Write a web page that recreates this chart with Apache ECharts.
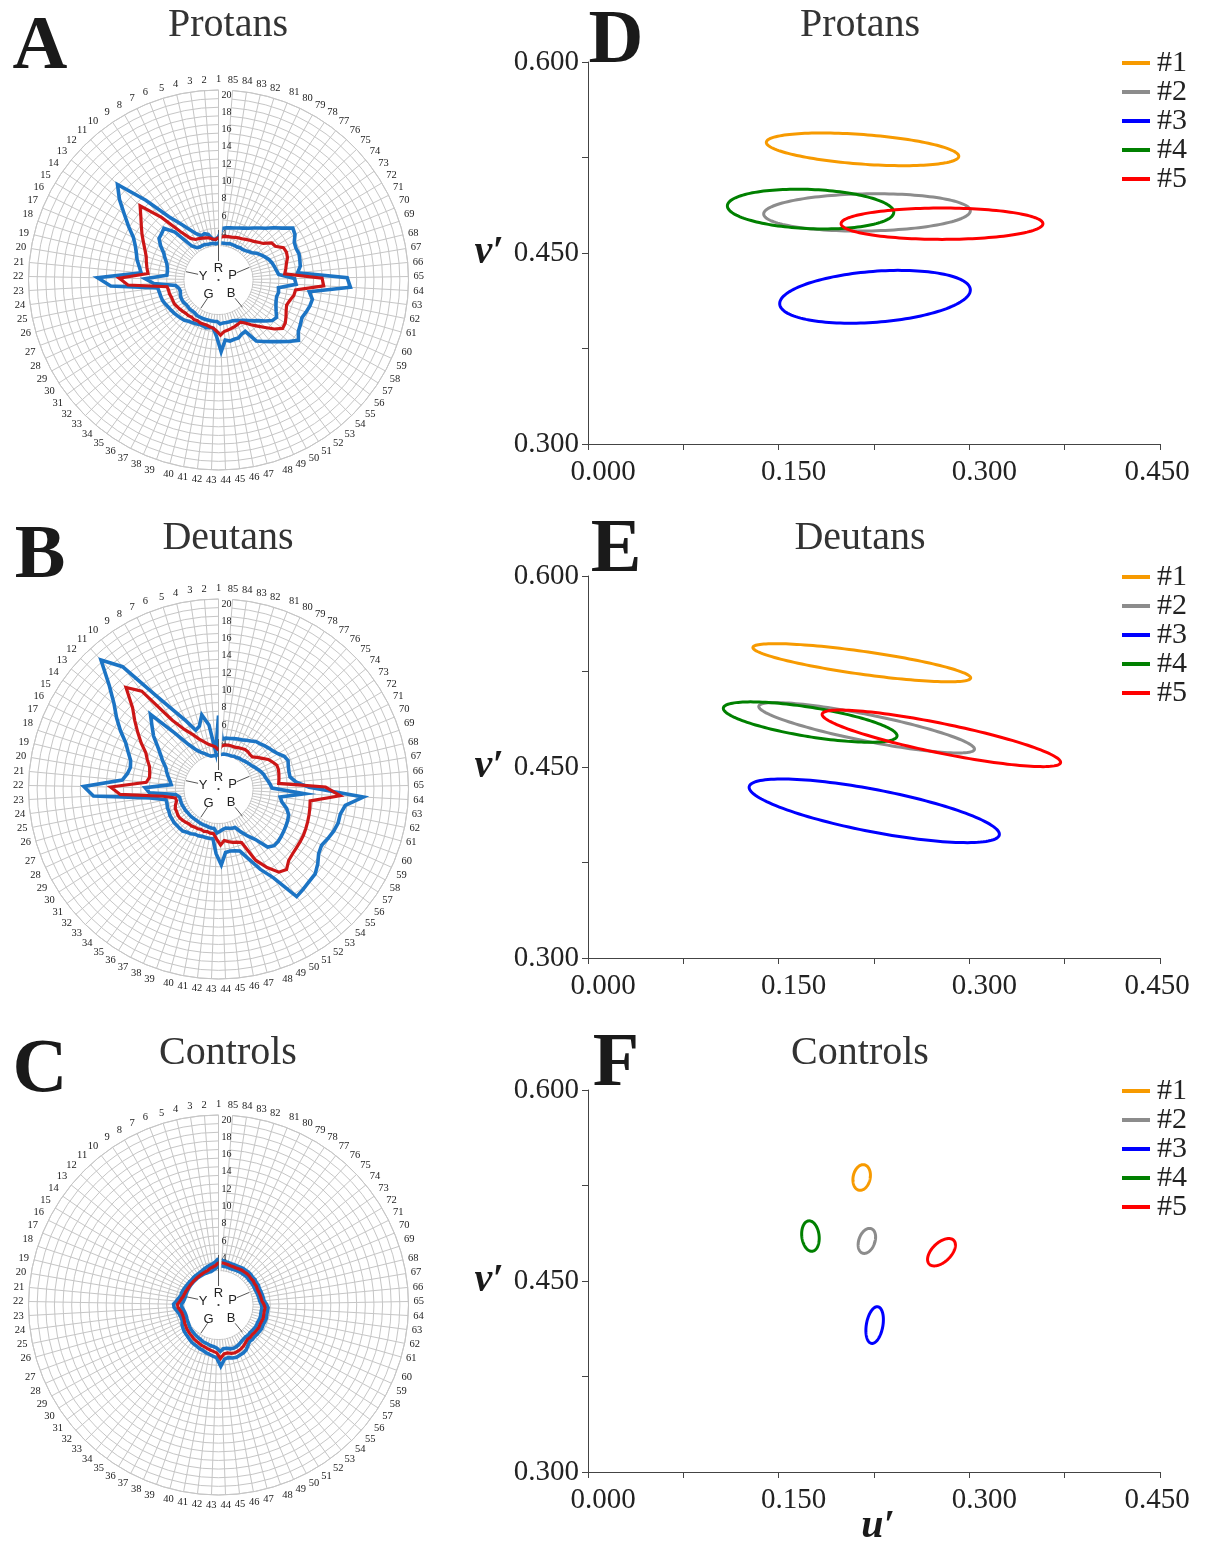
<!DOCTYPE html>
<html><head><meta charset="utf-8">
<script src="https://cdn.jsdelivr.net/npm/echarts@6/dist/echarts.min.js"></script>
<style>html,body{margin:0;padding:0;background:#fff}#c{width:1209px;height:1544px}</style>
</head><body><div id="c"></div>
<script>
// ---------- DATA ----------
const spokeLabels = ['1','2','3','4','5','6','7','8','9','10','11','12','13','14','15','16','17','18','19','20','21','22','23','24','25','26','27','28','29','30','31','32','33','34','35','36','37','38','39','40','41','42','43','44','45','46','47','48','49','50','51','52','53','54','55','56','57','58','59','60','61','62','63','64','65','66','67','68','69','70','71','72','73','74','75','76','77','78','79','80','81','82','83','84','85'];
const radiusTickLabels = [4,6,8,10,12,14,16,18,20];

const protanUpper = [3.0,2.7,2.8,3.4,3.6,3.5,3.9,4.7,5.8,7.3, 10.5,14.1,12.8,11.3,10.1,9.0,8.4,8.0,7.7,7.3, 7.0,12.0,10.5,5.1,5.0,4.95,4.9,4.75,4.6,4.5, 4.4,4.3,4.2,4.1,3.9,3.8,3.7,3.6,3.6,3.7, 3.6,3.6,4.5,6.3,5.0,5.2,5.1,5.1,4.8,4.7, 6.3,6.8,7.35,8.0,8.8,9.6,9.0,8.8,8.6,8.8, 9.0,9.1,8.6,13.3,12.9,7.2,7.6,7.7,7.8,7.7, 7.8,8.3,8.5,7.5,6.8,6.1,5.65,5.25,4.9,4.65, 4.45,4.3,4.2,4.1,4.0];
const protanMean = [2.9,2.7,2.8,3.0,3.1,3.2,3.3,3.4,3.8,5.1, 7.8,10.5,9.6,8.9,8.3,7.7,7.2,6.8,6.6,6.4, 6.2,9.5,8.5,4.0,3.9,3.9,3.8,3.8,3.8,3.7, 3.6,3.5,3.4,3.4,3.3,3.4,3.3,3.4,3.4,3.4, 3.5,3.6,3.9,4.4,4.0,3.9,3.8,3.7,3.6,3.5, 3.85,4.4,5.0,5.7,6.6,7.3,7.2,6.9,6.6,6.4, 6.6,6.9,7.0,10.2,10.0,5.7,5.9,6.1,6.4,6.5, 6.4,5.65,5.5,4.7,4.35,4.06,3.85,3.66,3.5,3.4, 3.3,3.2,3.15,3.1,3.0];
const protanLower = [2.3,2.2,2.3,2.3,2.3,2.4,2.4,2.4,2.5,3.0, 5.5,6.7,6.5,6.4,5.8,5.1,4.7,4.3,4.1,4.0, 4.0,6.5,5.5,3.0,2.7,2.6,2.7,2.8,2.8,2.8, 2.7,2.7,2.75,2.7,2.7,2.8,2.8,2.8,2.8,2.8, 2.8,2.8,2.8,3.1,3.0,3.0,3.0,3.0,3.1,3.3, 3.5,3.8,4.2,4.6,5.2,5.8,6.0,5.6,5.3,5.1, 5.0,5.1,5.0,7.0,6.8,5.0,4.8,4.65,4.5,4.3, 4.0,3.7,3.4,3.0,2.8,2.6,2.5,2.5,2.4,2.4, 2.4,2.4,2.3,2.3,2.3];

const deutanUpper = [6.5,2.3,5.5,6.8,5.6,5.3,6.7,8.4,11.1,16.0, 18.2,15.4,13.6,12.4,11.2,10.0,9.3,8.7,8.5,8.7, 9.2,13.6,12.5,6.0,4.2,4.2,4.3,4.3,4.4,4.4, 4.45,4.4,4.4,4.4,4.2,4.1,3.9,3.9,3.8,3.8, 3.8,3.8,5.5,6.8,5.4,5.3,5.4,5.6,6.8,8.5, 10.1,13.4,13.2,13.0,12.9,12.4,11.8,11.6,11.9,12.2, 12.4,12.4,12.8,14.8,8.5,7.0,6.4,6.4,6.5,6.7, 6.5,6.0,5.7,5.5,5.3,5.1,5.0,4.7,4.5,4.3, 4.2,4.1,4.0,3.95,3.8];
const deutanMean = [2.5,2.9,3.1,3.3,3.7,4.2,5.0,5.9,7.6,12.4, 13.9,11.7,10.5,9.4,8.4,7.4,6.9,6.4,6.2,6.1, 6.4,10.5,9.4,4.5,3.1,3.05,3.3,3.5,3.5,3.6, 3.6,3.5,3.4,3.3,3.3,3.2,3.2,3.1,3.2,3.1, 3.2,3.2,3.8,4.5,4.0,4.2,4.4,4.5,4.75,7.3, 8.7,9.9,10.2,9.6,9.4,9.3,9.25,9.2,9.1,9.0, 8.9,8.8,8.7,12.1,10.4,5.0,5.1,5.2,5.3,5.3, 5.0,4.7,4.2,3.8,3.4,3.4,3.5,3.5,3.4,3.3, 3.2,3.2,3.2,3.15,3.0];
const deutanLower = [2.0,1.9,1.9,1.9,2.1,2.4,2.7,3.2,4.2,6.25, 9.7,8.6,7.7,6.6,5.8,5.2,4.6,4.3,4.0,3.7, 3.5,6.5,6.0,3.0,2.6,2.6,2.6,2.6,2.55,2.55, 2.5,2.5,2.5,2.45,2.45,2.45,2.5,2.5,2.5,2.55, 2.6,2.6,3.1,2.9,2.7,2.6,2.7,2.8,2.85,3.6, 4.4,5.2,6.8,7.2,7.2,7.1,7.0,6.9,6.8,6.65, 6.2,5.5,5.2,8.0,4.2,4.0,3.8,3.6,3.5,3.3, 3.1,2.9,2.7,2.6,2.5,2.4,2.3,2.3,2.2,2.2, 2.1,2.1,2.1,2.1,2.0];

const controlUpper = [3.4,3.0,2.8,2.7,2.6,2.5,2.4,2.35,2.3,2.3, 2.3,2.25,2.3,2.3,2.35,2.4,2.45,2.5,2.5,2.7, 2.9,3.2,3.15,2.9,2.7,2.6,2.55,2.6,2.8,2.9, 3.0,3.05,3.1,3.2,3.3,3.35,3.4,3.5,3.55,3.7, 3.8,3.95,4.1,5.1,4.3,4.2,4.35,4.4,4.3,4.25, 4.1,3.8,3.55,3.6,3.55,3.6,3.65,3.7,3.65,3.7, 3.75,3.7,3.7,3.75,3.55,3.3,3.25,3.2,3.15,3.1, 3.15,3.1,3.15,3.1,3.15,3.15,3.1,3.1,3.05,3.0, 3.0,3.0,3.05,3.1,3.2];
const controlMean = [2.9,2.6,2.45,2.35,2.2,2.15,2.1,2.05,2.0,2.0, 2.0,2.0,2.0,2.0,2.0,2.05,2.1,2.15,2.2,2.35, 2.5,2.75,2.7,2.5,2.35,2.3,2.3,2.35,2.45,2.5, 2.6,2.65,2.7,2.75,2.85,2.9,2.95,3.05,3.1,3.2, 3.3,3.4,3.55,4.2,3.7,3.65,3.8,3.85,3.8,3.7, 3.55,3.35,3.2,3.25,3.2,3.25,3.3,3.35,3.3,3.35, 3.4,3.35,3.35,3.4,3.25,3.05,3.0,2.95,2.9,2.85, 2.9,2.85,2.9,2.85,2.9,2.9,2.85,2.85,2.8,2.75, 2.75,2.75,2.8,2.85,2.9];
const controlLower = [2.5,2.25,2.1,1.95,1.95,1.95,1.95,1.95,1.95,1.95, 1.95,1.95,1.95,1.95,1.95,1.95,1.95,1.95,1.95,2.0, 2.1,2.3,2.25,2.1,2.0,1.95,1.95,2.0,2.05,2.1, 2.2,2.25,2.3,2.35,2.4,2.45,2.5,2.6,2.65,2.7, 2.8,2.85,3.0,3.4,3.1,3.1,3.25,3.3,3.25,3.15, 3.0,2.9,2.85,2.9,2.85,2.9,2.95,3.0,2.95,3.0, 3.05,3.0,3.0,3.05,2.95,2.8,2.75,2.7,2.65,2.6, 2.6,2.6,2.6,2.55,2.6,2.6,2.55,2.55,2.5,2.5, 2.45,2.45,2.5,2.5,2.55];

// ellipses: [u', v', semi-major, semi-minor, rotation deg]
const stimulusNames = ['#1','#2','#3','#4','#5'];
const protanEllipses = [[0.2160,0.5314,0.0759,0.0116,-4.2],[0.2195,0.4819,0.0813,0.0146,0.9],[0.2258,0.4156,0.0752,0.0200,4.4],[0.1751,0.4845,0.0655,0.0154,-2.3],[0.2785,0.4730,0.0794,0.0123,0]];
const deutanEllipses = [[0.2154,0.5319,0.0865,0.0090,-8.0],[0.2192,0.4808,0.0865,0.0104,-11.3],[0.2252,0.4156,0.1002,0.0166,-10.9],[0.1748,0.4853,0.0692,0.0115,-9.2],[0.2780,0.4725,0.0957,0.0116,-11.5]];
const controlEllipses = [[0.2153,0.5313,0.0102,0.0067,78],[0.2194,0.4815,0.0102,0.0063,70],[0.2255,0.4154,0.0146,0.0065,80],[0.1750,0.4853,0.0120,0.0068,97],[0.2781,0.4726,0.0134,0.0075,44]];

const groupTitles = ['Protans','Deutans','Controls'];
const leftLetters = ['A','B','C'];
const rightLetters = ['D','E','F'];

// ---------- LAYOUT / STYLE ----------
const SERIF = '"Liberation Serif","Times New Roman",serif';
const SANS = '"Liberation Sans",Arial,sans-serif';
const stimColors = ['#f79a00','#8c8c8c','#0000ff','#008000','#ff0000'];
const BLUE = '#1c74c4', RED = '#cc1616', GRIDC = '#c6c6c6';
const polarCenters = [[218.5,280],[218.5,789],[218.5,1305]];
const R = 190, DISK = 34;
const gridTops = [62,576,1090];
const GL = 588, GW = 572, GH = 382;

const radarSets = [[protanUpper,protanMean,protanLower],[deutanUpper,deutanMean,deutanLower],[controlUpper,controlMean,controlLower]];
const ellipseSets = [protanEllipses, deutanEllipses, controlEllipses];

function closed(vals){ const d = vals.map((v,k)=>[v,k]); d.push([vals[0],0]); return d; }

function ellipseRender(color){
  return function(params, api){
    const u=api.value(0), v=api.value(1), a=api.value(2), b=api.value(3), ph=api.value(4)*Math.PI/180;
    const pts=[]; const N=144;
    for(let k=0;k<N;k++){
      const t=2*Math.PI*k/N;
      const du=a*Math.cos(t)*Math.cos(ph)-b*Math.sin(t)*Math.sin(ph);
      const dv=a*Math.cos(t)*Math.sin(ph)+b*Math.sin(t)*Math.cos(ph);
      pts.push(api.coord([u+du,v+dv]));
    }
    return {type:'polygon', shape:{points:pts}, style:{fill:'none', stroke:color, lineWidth:3}};
  };
}

const tickFont = {fontFamily:SERIF, fontSize:29, color:'#222'};
const option = {animation:false, backgroundColor:'#fff',
  polar: polarCenters.map(c=>({center:c, radius:R})),
  angleAxis: polarCenters.map((c,i)=>({polarIndex:i, type:'category', data:spokeLabels, boundaryGap:false,
    startAngle:90, clockwise:false, z:0,
    axisLine:{show:true, lineStyle:{color:GRIDC, width:1}}, axisTick:{show:false},
    axisLabel:{interval:0, margin:5, fontSize:10.5, fontFamily:SERIF, color:'#222'},
    splitLine:{show:true, lineStyle:{color:GRIDC, width:1}}})),
  radiusAxis: polarCenters.map((c,i)=>({polarIndex:i, type:'value', min:-2, max:20, interval:1, z:0,
    axisLine:{show:false}, axisTick:{show:false},
    axisLabel:{fontSize:10, fontFamily:SERIF, color:'#222', margin:-3, align:'left', verticalAlign:'top',
      formatter:v=> radiusTickLabels.indexOf(v)>=0 ? String(v) : ''},
    splitLine:{show:true, lineStyle:{color:GRIDC, width:1}}})),
  grid: gridTops.map(t=>({left:GL, top:t, width:GW, height:GH})),
  xAxis: gridTops.map((t,i)=>({gridIndex:i, type:'value', min:0, max:0.45, interval:0.075,
    axisLine:{show:true, lineStyle:{color:'#444'}}, axisTick:{show:true, length:6, lineStyle:{color:'#444'}},
    splitLine:{show:false},
    axisLabel:Object.assign({margin:14,
      rich:{s:Object.assign({padding:[0,0,0,30]},tickFont), e:Object.assign({padding:[0,0,0,-6]},tickFont)},
      formatter:v=>{const k=Math.round(v/0.075); if(k%2!==0) return ''; return (k===6? '{e|':'{s|')+v.toFixed(3)+'}';}}, tickFont)})),
  yAxis: gridTops.map((t,i)=>({gridIndex:i, type:'value', min:0.3, max:0.6, interval:0.075,
    axisLine:{show:true, lineStyle:{color:'#444'}}, axisTick:{show:true, length:6, lineStyle:{color:'#444'}},
    splitLine:{show:false},
    axisLabel:Object.assign({margin:9,
      formatter:v=>{const k=Math.round((v-0.3)/0.075); return (k%2===0)? v.toFixed(3):'';}}, tickFont)})),
  legend: gridTops.map(t=>({left:1117, top:t-19, padding:5, orient:'vertical', data:stimulusNames, icon:'rect',
    itemWidth:28, itemHeight:4, itemGap:-1, selectedMode:false,
    textStyle:{fontFamily:SERIF, fontSize:30, color:'#222', padding:[0,0,0,2]}})),
  series: [], graphic: {elements: []}
};

radarSets.forEach((set,i)=>{
  const styles=[{c:BLUE,w:3.6},{c:RED,w:3.2},{c:BLUE,w:3.6}];
  set.forEach((vals,j)=>{
    option.series.push({type:'line', coordinateSystem:'polar', polarIndex:i, data:closed(vals),
      symbol:'none', silent:true, z: j===1?4:3, lineStyle:{color:styles[j].c, width:styles[j].w, join:'miter'}});
  });
});
ellipseSets.forEach((set,i)=>{
  set.forEach((e,j)=>{
    option.series.push({type:'custom', name:stimulusNames[j], coordinateSystem:'cartesian2d', xAxisIndex:i, yAxisIndex:i,
      data:[e], encode:{x:0,y:1}, silent:true, itemStyle:{color:stimColors[j]}, renderItem:ellipseRender(stimColors[j])});
  });
});

const G = option.graphic.elements;
function txt(x,y,text,font,fill,z){ G.push({type:'text', x:x, y:y, z:z||5, silent:true,
  style:{text:text, font:font, fill:fill, align:'center', verticalAlign:'middle', textAlign:'center', textVerticalAlign:'middle'}}); }
function line(x1,y1,x2,y2,z){ G.push({type:'line', z:z||2, silent:true, shape:{x1:x1,y1:y1,x2:x2,y2:y2}, style:{stroke:'#555', lineWidth:1}}); }

polarCenters.forEach(([cx,cy],i)=>{
  G.push({type:'circle', z:1, silent:true, shape:{cx:cx, cy:cy, r:DISK}, style:{fill:'#fff'}});
  G.push({type:'circle', z:2, silent:true, shape:{cx:cx, cy:cy, r:1.1}, style:{fill:'#333'}});
  line(cx, cy-19, cx, cy-50);
  line(cx-20.4, cy-5.7, cx-32.5, cy-8.3);
  line(cx+18.3, cy-7.3, cx+31, cy-12.7);
  line(cx-11, cy+18.3, cx-17.7, cy+28.3);
  line(cx+16.6, cy+18.3, cx+24, cy+27.3);
  const f = '13px '+SANS;
  txt(cx, cy-12, 'R', f, '#222', 2);
  txt(cx+14, cy-5, 'P', f, '#222', 2);
  txt(cx-15.5, cy-4, 'Y', f, '#222', 2);
  txt(cx-10, cy+14, 'G', f, '#222', 2);
  txt(cx+12.5, cy+13.5, 'B', f, '#222', 2);
});

const titleY = [25, 538, 1053];
const letterY = [48, 557, 1071];
titleY.forEach((y,i)=>{
  txt(228, y, groupTitles[i], '40px '+SERIF, '#333');
  txt(860, y, groupTitles[i], '40px '+SERIF, '#333');
  txt(40, letterY[i], leftLetters[i], 'bold 76px '+SERIF, '#1a1a1a');
  txt(616, letterY[i]-6, rightLetters[i], 'bold 76px '+SERIF, '#1a1a1a');
  txt(489, gridTops[i]+191, 'v\u2032', 'bold italic 40px '+SERIF, '#1a1a1a');
});
txt(878, 1527, 'u\u2032', 'bold italic 40px '+SERIF, '#1a1a1a');

const chart = echarts.init(document.getElementById('c'), null, {renderer:'canvas'});
chart.setOption(option);
</script></body></html>
